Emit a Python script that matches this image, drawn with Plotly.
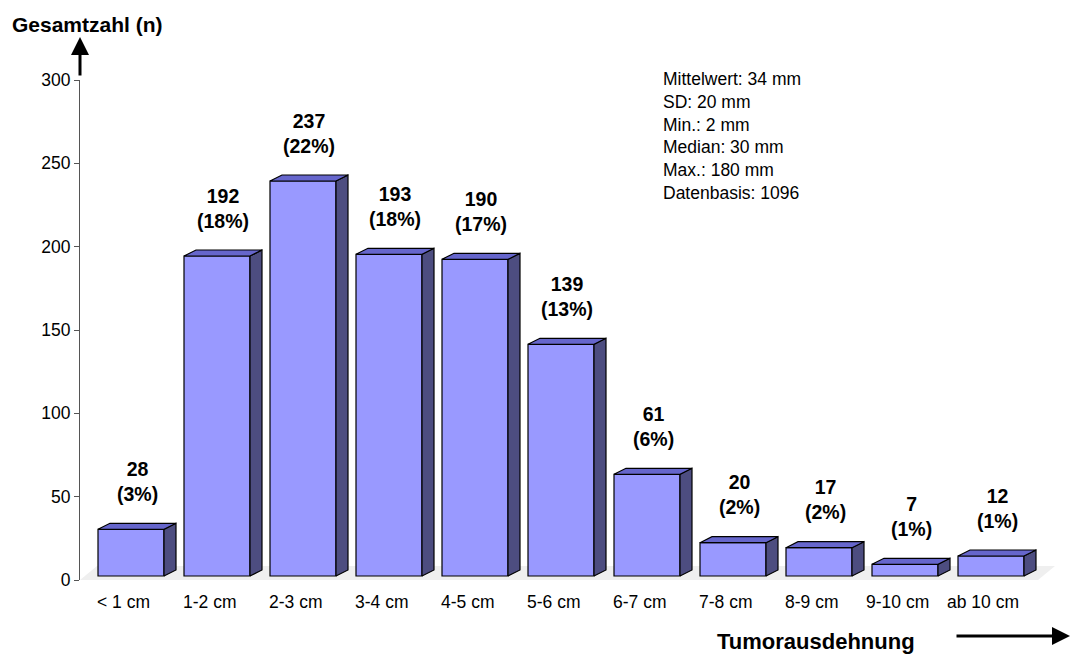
import plotly.graph_objects as go

# Tumour size distribution (counts and shares per size class)
categories = ["< 1 cm", "1-2 cm", "2-3 cm", "3-4 cm", "4-5 cm", "5-6 cm",
              "6-7 cm", "7-8 cm", "8-9 cm", "9-10 cm", "ab 10 cm"]
counts = [28, 192, 237, 193, 190, 139, 61, 20, 17, 7, 12]
percents = [3, 18, 22, 18, 17, 13, 6, 2, 2, 1, 1]
stats_lines = ["Mittelwert: 34 mm", "SD: 20 mm", "Min.: 2 mm",
               "Median: 30 mm", "Max.: 180 mm", "Datenbasis: 1096"]
y_ticks = [0, 50, 100, 150, 200, 250, 300]

FONT = "Arial, Liberation Sans, sans-serif"
FRONT = "#9999FF"
TOP = "#6666CC"
SIDE = "#4D4D80"

W, H = 1071, 655
L, R, T, B = 80, 0, 80, 75
plot_w = W - L - R
plot_h = H - T - B
y_max = 300
px_x = 86.0                      # pixels per category step
px_y = plot_h / y_max            # pixels per count unit
x_lo = -51 / px_x
x_hi = x_lo + plot_w / px_x

bar_w = 66 / px_x
depth_x = 12 / px_x
depth_y = 6 / px_y
base = 4 / px_y                  # front faces stand slightly inside the floor

xs = list(range(len(categories)))

# pseudo-3D top and side faces
top_x, top_y, side_x, side_y = [], [], [], []
for i, v in zip(xs, counts):
    x0, x1 = i - bar_w / 2, i + bar_w / 2
    yt = base + v
    top_x += [x0, x1, x1 + depth_x, x0 + depth_x, x0, None]
    top_y += [yt, yt, yt + depth_y, yt + depth_y, yt, None]
    side_x += [x1, x1, x1 + depth_x, x1 + depth_x, x1, None]
    side_y += [base, yt, yt + depth_y, base + depth_y, base, None]

fig = go.Figure()

fig.add_trace(go.Bar(
    x=xs, y=counts, base=base, width=bar_w,
    marker=dict(color=FRONT, line=dict(color="black", width=1.2)),
    hoverinfo="skip",
))
fig.add_trace(go.Scatter(
    x=side_x, y=side_y, mode="lines", fill="toself", fillcolor=SIDE,
    line=dict(color="black", width=1.2), hoverinfo="skip",
))
fig.add_trace(go.Scatter(
    x=top_x, y=top_y, mode="lines", fill="toself", fillcolor=TOP,
    line=dict(color="black", width=1.2), hoverinfo="skip",
))

# floor of the 3D chart
floor_right = x_lo + (1038 - L) / px_x
floor_dx = 17 / px_x
floor_dy = 14 / px_y
fig.add_shape(
    type="path", xref="x", yref="y", layer="below", line=dict(width=0),
    fillcolor="#EFEFEF",
    path=(f"M{x_lo},0 L{floor_right},0 L{floor_right + floor_dx},{floor_dy} "
          f"L{x_lo + floor_dx},{floor_dy} Z"),
)

annotations = []
# value labels above each bar
for i, v, p in zip(xs, counts, percents):
    annotations.append(dict(
        x=i + 6 / px_x, y=base + v, xref="x", yref="y",
        text=f"<b>{v}</b><br><b>({p}%)</b>", showarrow=False,
        xanchor="center", yanchor="middle", yshift=48,
        font=dict(family=FONT, size=19.5, color="black"),
    ))
# category labels
for i, c in zip(xs, categories):
    annotations.append(dict(
        x=i - 8 / px_x, y=0, xref="x", yref="paper", text=c,
        showarrow=False, xanchor="center", yanchor="middle", yshift=-22,
        font=dict(family=FONT, size=17.5, color="black"),
    ))
# summary statistics
annotations.append(dict(
    x=(661 - L) / plot_w, y=(T + plot_h - 67) / plot_h, xref="paper", yref="paper",
    text="<br>".join(stats_lines), showarrow=False, align="left",
    xanchor="left", yanchor="top",
    font=dict(family=FONT, size=17.5, color="black"),
))
# axis titles
annotations.append(dict(
    x=(87 - L) / plot_w, y=(plot_h + T - 25) / plot_h, xref="paper", yref="paper",
    text="<b>Gesamtzahl (n)</b>", showarrow=False,
    xanchor="center", yanchor="middle",
    font=dict(family=FONT, size=21, color="black"),
))
annotations.append(dict(
    x=(816 - L) / plot_w, y=(plot_h + T - 641) / plot_h, xref="paper", yref="paper",
    text="<b>Tumorausdehnung</b>", showarrow=False,
    xanchor="center", yanchor="middle",
    font=dict(family=FONT, size=22, color="black"),
))
# axis arrows
annotations.append(dict(
    x=0, y=(plot_h + T - 37) / plot_h, xref="paper", yref="paper",
    ax=0, ay=40, axref="pixel", ayref="pixel", text="",
    showarrow=True, arrowhead=2, arrowsize=1.2, arrowwidth=3, arrowcolor="black",
))
annotations.append(dict(
    x=(1075 - L) / plot_w, y=(plot_h + T - 636) / plot_h, xref="paper", yref="paper",
    ax=-120, ay=0, axref="pixel", ayref="pixel", text="",
    showarrow=True, arrowhead=2, arrowsize=1.2, arrowwidth=3, arrowcolor="black",
))

fig.update_layout(
    width=W, height=H,
    margin=dict(l=L, r=R, t=T, b=B, pad=0),
    paper_bgcolor="white", plot_bgcolor="white",
    showlegend=False,
    annotations=annotations,
    xaxis=dict(range=[x_lo, x_hi], visible=False, fixedrange=True),
    yaxis=dict(
        range=[0, y_max], tickvals=y_ticks, ticktext=[str(t) for t in y_ticks],
        showgrid=False, zeroline=False,
        showline=True, linecolor="#555555", linewidth=1,
        ticks="outside", ticklen=5, tickcolor="#555555", tickwidth=1,
        tickfont=dict(family=FONT, size=17.5, color="black"),
        fixedrange=True,
    ),
)

fig.write_html("out.html")
